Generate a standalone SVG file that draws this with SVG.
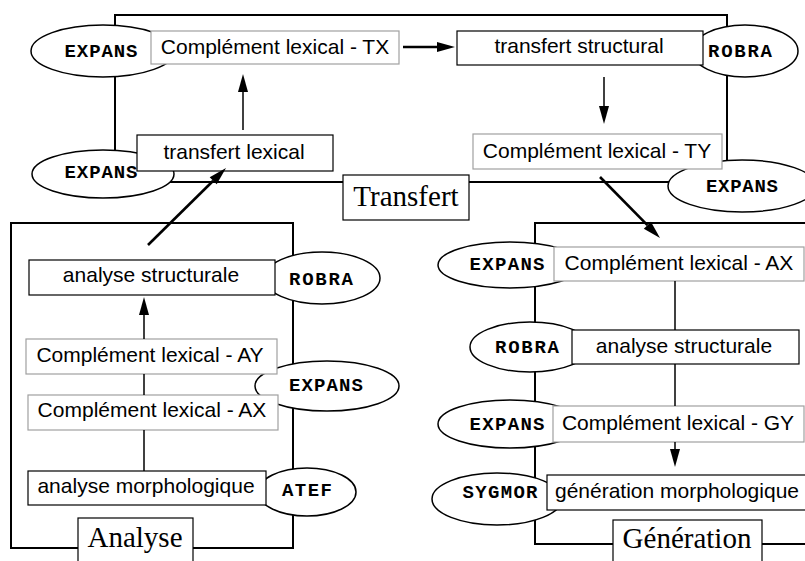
<svg xmlns="http://www.w3.org/2000/svg" width="805" height="561" viewBox="0 0 805 561">
  <style>
    .frame { fill: none; stroke: #000; stroke-width: 2; }
    .tool { fill: #fff; stroke: #000; stroke-width: 1.5; }
    .step { fill: #fff; stroke: #000; stroke-width: 1.2; }
    .lex { fill: #fff; stroke: #a0a0a0; stroke-width: 1.2; }
    .label { fill: #fff; stroke: #000; stroke-width: 1.2; }
    .t { font-family: "Liberation Sans", Arial, sans-serif; font-size: 21px; fill: #000; text-anchor: middle; }
    .m { font-family: "Liberation Mono", "Courier New", monospace; font-weight: bold; font-size: 19px; fill: #000; text-anchor: middle; }
    .s { font-family: "Liberation Serif", "Times New Roman", serif; font-size: 29px; fill: #000; text-anchor: middle; }
    .c { fill: none; stroke: #000; stroke-width: 1.5; }
    .thick { stroke-width: 2.6; }
  </style>
  <defs>
    <marker id="head" markerUnits="userSpaceOnUse" markerWidth="18" markerHeight="10" refX="0" refY="5" orient="auto" overflow="visible">
      <path d="M0,0 L18,5 L0,10 Z" fill="#000"/>
    </marker>
  </defs>

  <rect width="805" height="561" fill="#fff"/>

  <!-- stage frames -->
  <g id="frames">
    <rect class="frame" x="115" y="15" width="612" height="167"/>
    <rect class="frame" x="11" y="223" width="282" height="325"/>
    <rect class="frame" x="535" y="223" width="300" height="321"/>
  </g>

  <!-- tools (ellipses) -->
  <g id="tool-expans-tx"><ellipse class="tool" cx="103" cy="51" rx="72" ry="26"/><text class="m" x="101" y="57" textLength="73">EXPANS</text></g>
  <g id="tool-expans-tl"><ellipse class="tool" cx="103" cy="174" rx="71" ry="24"/><text class="m" x="101" y="178" textLength="73">EXPANS</text></g>
  <g id="tool-robra-ts"><ellipse class="tool" cx="745" cy="51" rx="53" ry="26"/><text class="m" x="740" y="57" textLength="64">ROBRA</text></g>
  <g id="tool-expans-ty"><ellipse class="tool" cx="742" cy="186" rx="74" ry="26"/><text class="m" x="742" y="192" textLength="72">EXPANS</text></g>

  <g id="tool-robra-as"><ellipse class="tool" cx="322" cy="278" rx="58" ry="26"/><text class="m" x="321" y="285" textLength="64">ROBRA</text></g>
  <g id="tool-expans-a"><ellipse class="tool" cx="327" cy="386" rx="72" ry="25"/><text class="m" x="326" y="391" textLength="74">EXPANS</text></g>
  <g id="tool-atef"><ellipse class="tool" cx="307" cy="492" rx="49" ry="24"/><text class="m" x="307" y="496" textLength="50">ATEF</text></g>

  <g id="tool-expans-gax"><ellipse class="tool" cx="510" cy="265" rx="72" ry="23"/><text class="m" x="507" y="270" textLength="75">EXPANS</text></g>
  <g id="tool-robra-gs"><ellipse class="tool" cx="530" cy="347" rx="60" ry="25"/><text class="m" x="527" y="353" textLength="64">ROBRA</text></g>
  <g id="tool-expans-ggy"><ellipse class="tool" cx="510" cy="424" rx="72" ry="24"/><text class="m" x="507" y="430" textLength="75">EXPANS</text></g>
  <g id="tool-sygmor"><ellipse class="tool" cx="497" cy="499" rx="65" ry="26"/><text class="m" x="500" y="498" textLength="75">SYGMOR</text></g>

  <!-- processing steps -->
  <g id="step-tx"><rect class="lex" x="151" y="31" width="248" height="33"/><text class="t" x="275" y="54">Complément lexical - TX</text></g>
  <g id="step-transfert-structural"><rect class="step" x="457" y="31" width="246" height="34"/><text class="t" x="579" y="53">transfert structural</text></g>
  <g id="step-transfert-lexical"><rect class="step" x="137" y="135" width="196" height="36"/><text class="t" x="234" y="159">transfert lexical</text></g>
  <g id="step-ty"><rect class="lex" x="473" y="134" width="249" height="35"/><text class="t" x="597" y="158">Complément lexical - TY</text></g>

  <g id="step-analyse-structurale"><rect class="step" x="29" y="260" width="246" height="35"/><text class="t" x="151" y="282">analyse structurale</text></g>
  <g id="step-ay"><rect class="lex" x="26" y="339" width="251" height="35"/><text class="t" x="150" y="362">Complément lexical - AY</text></g>
  <g id="step-ax-a"><rect class="lex" x="28" y="395" width="250" height="35"/><text class="t" x="152" y="417">Complément lexical - AX</text></g>
  <g id="step-analyse-morphologique"><rect class="step" x="28" y="471" width="238" height="34"/><text class="t" x="146" y="493">analyse morphologique</text></g>

  <g id="step-ax-g"><rect class="lex" x="554" y="247" width="250" height="34"/><text class="t" x="679" y="270">Complément lexical - AX</text></g>
  <g id="step-gen-structurale"><rect class="step" x="572" y="330" width="227" height="34"/><text class="t" x="684" y="353">analyse structurale</text></g>
  <g id="step-gy"><rect class="lex" x="553" y="406" width="251" height="36"/><text class="t" x="678" y="430">Complément lexical - GY</text></g>
  <g id="step-gen-morphologique"><rect class="step" x="547" y="475" width="270" height="35"/><text class="t" x="677" y="498">génération morphologique</text></g>

  <!-- stage labels -->
  <g id="label-transfert"><rect class="label" x="343" y="175" width="126" height="45"/><text class="s" x="406" y="206">Transfert</text></g>
  <g id="label-analyse"><rect class="label" x="78" y="518" width="115" height="60"/><text class="s" x="135" y="547">Analyse</text></g>
  <g id="label-generation"><rect class="label" x="613" y="520" width="149" height="60"/><text class="s" x="687" y="548">Génération</text></g>

  <!-- connectors -->
  <g id="connectors">
    <line class="c thick" x1="403" y1="47" x2="437" y2="47" marker-end="url(#head)"/>
    <line class="c" x1="604" y1="77" x2="604" y2="106" marker-end="url(#head)"/>
    <line class="c thick" x1="600" y1="177" x2="647.4" y2="225.2" marker-end="url(#head)"/>
    <line class="c thick" x1="148" y1="245" x2="213.2" y2="180.7" marker-end="url(#head)"/>
    <line class="c" x1="243" y1="130" x2="243" y2="92" stroke-width="2" marker-end="url(#head)"/>
    <line class="c" x1="144" y1="339" x2="144" y2="315" marker-end="url(#head)"/>
    <line class="c" x1="144" y1="374" x2="144" y2="395"/>
    <line class="c" x1="144" y1="430" x2="144" y2="471"/>
    <line class="c" x1="675" y1="281" x2="675" y2="330"/>
    <line class="c" x1="675" y1="364" x2="675" y2="406"/>
    <line class="c" x1="675" y1="442" x2="675" y2="449" marker-end="url(#head)"/>
  </g>
</svg>
